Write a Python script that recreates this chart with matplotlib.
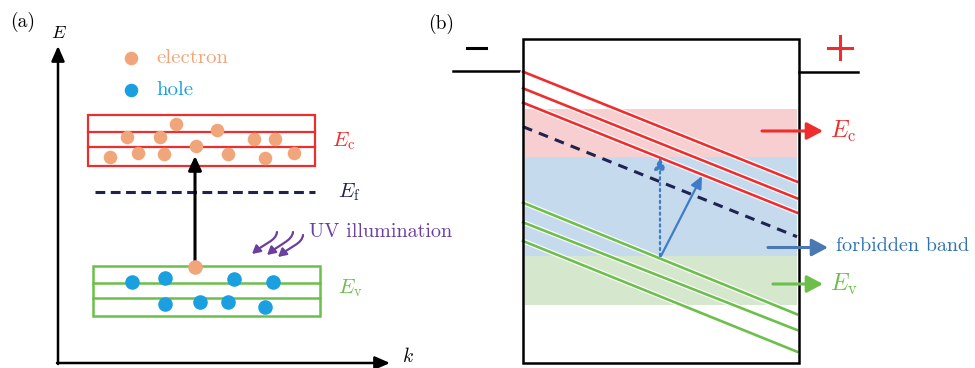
import matplotlib
matplotlib.use("Agg")
import matplotlib.pyplot as plt
import matplotlib.patheffects as pe
from matplotlib.path import Path
from matplotlib.patches import Rectangle, FancyArrowPatch

plt.rcParams['mathtext.fontset'] = 'cm'
plt.rcParams['font.family'] = ['cmr10', 'DejaVu Serif']

# colours
RED = '#ee2e2e'
GREEN = '#6cbf4b'
NAVY = '#1f2350'
ORANGE = '#f0a67a'
CYAN = '#1aa0e0'
PURPLE = '#6b3fa0'
BLUE = '#3f7cc8'

# ---- panel (a) data (pixel coordinates) ----
electron_x = [176, 217, 127, 160, 254, 275, 196, 110, 138, 164, 228, 265, 294]
electron_y = [124, 130, 137, 137, 139, 139, 146, 157, 153, 154, 154, 158, 153]
hole_x = [132, 165, 234, 273, 165, 200, 228, 265]
hole_y = [282, 278, 279, 282, 304, 302, 302, 307]
cb_box = (88, 315, 115, 166)          # x0, x1, y0, y1
cb_lines = [132, 147]
vb_box = (93, 320, 266, 316)
vb_lines = [283, 298]
fermi_a = (95, 315, 192)
excited = (195, 267)                  # electron at the top of the valence band
uv_start = [(277, 232), (293, 232), (303, 235)]
uv_end = [(252, 254), (267, 255), (278, 257)]

# ---- panel (b) data ----
box_b = (523, 799, 39, 363)
bands_b = [('#f8cfd0', 109, 157), ('#c6daee', 157, 256), ('#d5e8cd', 256, 305)]
red_left = [71.7, 88.3, 102.7]
red_right = [181.7, 198.3, 212.7]
green_left = [202.7, 222.3, 241.0]
green_right = [314.3, 330.0, 351.7]
fermi_b = (126.7, 236.7)

fig = plt.figure(figsize=(9.75, 3.68), dpi=100)
ax = fig.add_axes([0, 0, 1, 1])
ax.set_xlim(0, 975)
ax.set_ylim(368, 0)
ax.axis('off')


def arrow(p0, p1, color, lw=2, ls='-', hl=0.6, hw=0.3, ms=20, z=5):
    ax.annotate('', xy=p1, xytext=p0,
                arrowprops=dict(arrowstyle=f'-|>,head_length={hl},head_width={hw}',
                                color=color, lw=lw, linestyle=ls,
                                shrinkA=0, shrinkB=0, mutation_scale=ms),
                zorder=z)


# ================= (a) =================
ax.text(10, 22, '(a)', fontsize=14, va='center', ha='left')
ax.text(59, 33, r'$E$', fontsize=13, va='center', ha='center')
ax.text(402, 366, r'$k$', fontsize=14, va='bottom', ha='left')
arrow((58, 364), (58, 46), 'black', lw=1.8, hl=0.5, hw=0.22, ms=18)
arrow((57, 363), (390, 363), 'black', lw=1.8, hl=0.5, hw=0.22, ms=18)

ax.scatter([131], [58], s=95, color=ORANGE, zorder=6, linewidths=0)
ax.text(156, 58, 'electron', fontsize=15, color=ORANGE, va='center')
ax.scatter([131], [90], s=95, color=CYAN, zorder=6, linewidths=0)
ax.text(156, 90, 'hole', fontsize=15, color=CYAN, va='center')

x0, x1, y0, y1 = cb_box
ax.add_patch(Rectangle((x0, y0), x1 - x0, y1 - y0, fill=False, ec=RED, lw=1.6, zorder=3))
for y in cb_lines:
    ax.plot([x0, x1], [y, y], color=RED, lw=1.6, zorder=3)
x0, x1, y0, y1 = vb_box
ax.add_patch(Rectangle((x0, y0), x1 - x0, y1 - y0, fill=False, ec=GREEN, lw=1.8, zorder=3))
for y in vb_lines:
    ax.plot([x0, x1], [y, y], color=GREEN, lw=1.8, zorder=3)

ax.scatter(electron_x, electron_y, s=95, color=ORANGE, zorder=6, linewidths=0)
ax.scatter(hole_x, hole_y, s=110, color=CYAN, zorder=6, linewidths=0)
ax.scatter([excited[0]], [excited[1]], s=110, color=ORANGE, zorder=7, linewidths=0)

arrow((excited[0], excited[1] - 4), (excited[0], 156), 'black', lw=2.2, hl=0.6, hw=0.28, ms=14)

ax.plot([fermi_a[0], fermi_a[1]], [fermi_a[2]] * 2, color=NAVY, lw=2.2,
        dashes=(3.2, 1.8), zorder=3)

ax.text(332, 141, r'$E_{\mathrm{c}}$', fontsize=15, color=RED, va='center')
ax.text(338, 192, r'$E_{\mathrm{f}}$', fontsize=15, color=NAVY, va='center')
ax.text(338, 288, r'$E_{\mathrm{v}}$', fontsize=15, color=GREEN, va='center')

ax.text(309, 232, 'UV illumination', fontsize=14.5, color=PURPLE, va='center')
for (sx, sy), (ex, ey) in zip(uv_start, uv_end):
    verts = [(sx, sy), (sx - 1, sy + 9), (ex + 13, ey - 11), (ex, ey)]
    p = Path(verts, [Path.MOVETO, Path.CURVE4, Path.CURVE4, Path.CURVE4])
    ax.add_patch(FancyArrowPatch(path=p, arrowstyle='-|>,head_length=0.4,head_width=0.22',
                                 mutation_scale=12, color=PURPLE, lw=1.6, zorder=5))

# ================= (b) =================
ax.text(428, 24, '(b)', fontsize=14, va='center', ha='left')
bx0, bx1, by0, by1 = box_b
for col, t, b in bands_b:
    ax.add_patch(Rectangle((bx0 + 2, t), bx1 - bx0 - 4, b - t, color=col, lw=0, zorder=1))
ax.add_patch(Rectangle((bx0, by0), bx1 - bx0, by1 - by0, fill=False, ec='black', lw=1.8, zorder=8))

ax.plot([453, bx0], [71, 71], color='black', lw=1.8)
ax.plot([bx1, 858], [71.5, 71.5], color='black', lw=1.8)
ax.plot([467, 486], [48, 48], color='black', lw=2.2)
ax.plot([828, 852], [47.5, 47.5], color=RED, lw=2.2)
ax.plot([840, 840], [36, 59], color=RED, lw=2.2)

halo = [pe.withStroke(linewidth=3.6, foreground='white')]
for yl, yr in zip(red_left, red_right):
    ax.plot([bx0, bx1 - 2], [yl, yr], color=RED, lw=1.9, zorder=4, path_effects=halo)
for yl, yr in zip(green_left, green_right):
    ax.plot([bx0, bx1 - 2], [yl, yr], color=GREEN, lw=1.9, zorder=4, path_effects=halo)
ax.plot([bx0, bx1 - 2], list(fermi_b), color=NAVY, lw=2.2, dashes=(3.2, 2.4), zorder=4)

arrow((660, 256), (660, 157), BLUE, lw=1.6, ls=':', hl=0.6, hw=0.28, ms=12)
arrow((661, 256), (702, 176), BLUE, lw=1.6, hl=0.6, hw=0.28, ms=12)

arrow((762, 131), (823, 131), RED, lw=2.2, hl=0.75, hw=0.4, ms=13, z=9)
ax.text(830, 131, r'$E_{\mathrm{c}}$', fontsize=17, color=RED, va='center')
arrow((768, 247.5), (828, 247.5), '#4a78b3', lw=2.2, hl=0.75, hw=0.4, ms=13, z=9)
ax.text(836, 246, 'forbidden band', fontsize=14.5, color='#2f72b4', va='center')
arrow((773, 284), (823, 284), GREEN, lw=2.2, hl=0.75, hw=0.4, ms=13, z=9)
ax.text(830, 284, r'$E_{\mathrm{v}}$', fontsize=17, color=GREEN, va='center')

fig.savefig('out.png', dpi=100)
